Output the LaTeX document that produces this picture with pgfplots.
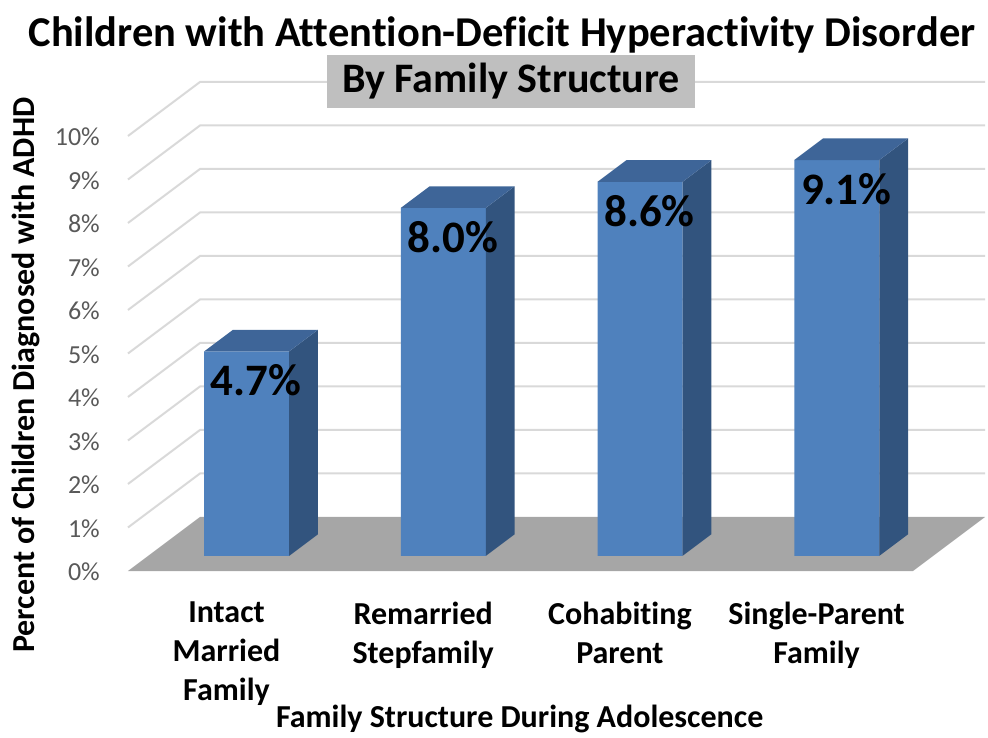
\documentclass[border=0pt]{standalone}
\usepackage{pgfplots}
\pgfplotsset{compat=1.18}
\usepackage{pgfplotstable}
\usepackage{fontspec}
\setmainfont{Carlito}[Ligatures={NoCommon}]
\definecolor{frontcol}{RGB}{79,129,189}
\definecolor{topcol}{RGB}{62,101,152}
\definecolor{sidecol}{RGB}{50,84,126}
\definecolor{floorcol}{RGB}{166,166,166}
\definecolor{gridcol}{RGB}{217,217,217}
\definecolor{boxcol}{RGB}{191,191,191}
\definecolor{tickcol}{RGB}{89,89,89}

\pgfplotstableread{
idx val
0 4.7
1 8.0
2 8.6
3 9.1
}\datatable

% geometry templates (depth offsets of the oblique view), h = share of bar value
\pgfplotstableread{
dx dy h
0.3186 0.3476 0
0.4650 0.8442 0
0.4650 0.8442 1
0.3186 0.3476 1
}\sidetpl
\pgfplotstableread{
dx dy h
-0.1136 0.3476 1
0.3186 0.3476 1
0.4650 0.8442 1
0.0328 0.8442 1
}\toptpl
\pgfplotstableread{
gx gy
-0.5008 0
-0.1348 1.2414
3.8561 1.2414
}\gridtpl
\pgfplotstableread{
fx fy
-0.5008 0
3.4901 0
3.8561 1.2414
-0.1348 1.2414
}\floortbl

\begin{document}
\begin{tikzpicture}
\begin{axis}[
  x=196.7pt, y=43.5pt,
  xmin=-1.15150, xmax=3.87138,
  ymin=-3.8161, ymax=13.1264,
  clip=false,
  axis line style={draw=none},
  tick style={draw=none},
  ytick={0,1,...,10},
  yticklabel={\pgfmathprintnumber[assume math mode=true]{\tick}\%},
  yticklabel style={anchor=east, inner sep=0pt, xshift=100pt, yshift=-1pt,
    font=\fontsize{26}{30}\selectfont, text=tickcol},
  xtick={0,1,2,3},
  xticklabels={{Intact\\Married\\Family},{Remarried\\Stepfamily},{Cohabiting\\Parent},{Single-Parent\\Family}},
  xticklabel style={anchor=north, align=center, inner sep=0pt, yshift=135pt,
    font=\bfseries\fontsize{32}{39}\selectfont},
  xlabel={Family Structure During Adolescence},
  xlabel style={at={(axis description cs:0.526,0.024)}, anchor=center, inner sep=0pt,
    font=\bfseries\fontsize{32}{39}\selectfont},
  ylabel={Percent of Children Diagnosed with ADHD},
  ylabel style={at={(axis description cs:0.026,0.491)}, anchor=center, rotate=0, inner sep=0pt,
    font=\bfseries\fontsize{32}{39}\selectfont},
]
% wall gridlines
\pgfplotsinvokeforeach{1,...,10}{
  \addplot[gridcol, line width=2pt] table[x=gx, y expr=\thisrow{gy}+#1] {\gridtpl};
}
% floor
\addplot[fill=floorcol, draw=none] table[x=fx, y=fy] {\floortbl} -- cycle;
% bar fronts
\addplot[ybar, bar width=85pt, bar shift=0pt, fill=frontcol, draw=none,
  xshift=20.2pt, yshift=15.1pt] table[x=idx, y=val] {\datatable};
% bar sides and tops
\pgfplotsinvokeforeach{0,1,2,3}{
  \pgfplotstablegetelem{#1}{val}\of\datatable
  \edef\barval{\pgfplotsretval}
  \addplot[fill=sidecol, draw=none] table[x expr=#1+\thisrow{dx}, y expr=\thisrow{dy}+\thisrow{h}*\barval] {\sidetpl} -- cycle;
  \addplot[fill=topcol, draw=none] table[x expr=#1+\thisrow{dx}, y expr=\thisrow{dy}+\thisrow{h}*\barval] {\toptpl} -- cycle;
}
% value labels
\addplot[only marks, mark=none, point meta=explicit,
  nodes near coords={\pgfmathprintnumber[fixed,fixed zerofill,precision=1,assume math mode=true]{\pgfplotspointmeta}\%},
  nodes near coords style={anchor=center, xshift=9.5pt, yshift=-29pt, inner sep=0pt,
    font=\bfseries\fontsize{45}{50}\selectfont, text=black}]
  table[x expr=\thisrow{idx}+0.1025, y expr=\thisrow{val}+0.3476, meta=val] {\datatable};
% titles
\node[font=\bfseries\fontsize{42.5}{50}\selectfont, anchor=center, inner sep=0pt]
  at (axis description cs:0.508,0.952) {Children with Attention-Deficit Hyperactivity Disorder};
\node[fill=boxcol, minimum width=368pt, minimum height=53pt, inner sep=0pt,
  font=\bfseries\fontsize{42}{50}\selectfont, anchor=center]
  at (axis description cs:0.5172,0.8894) {By Family Structure};
\end{axis}
\end{tikzpicture}
\end{document}
